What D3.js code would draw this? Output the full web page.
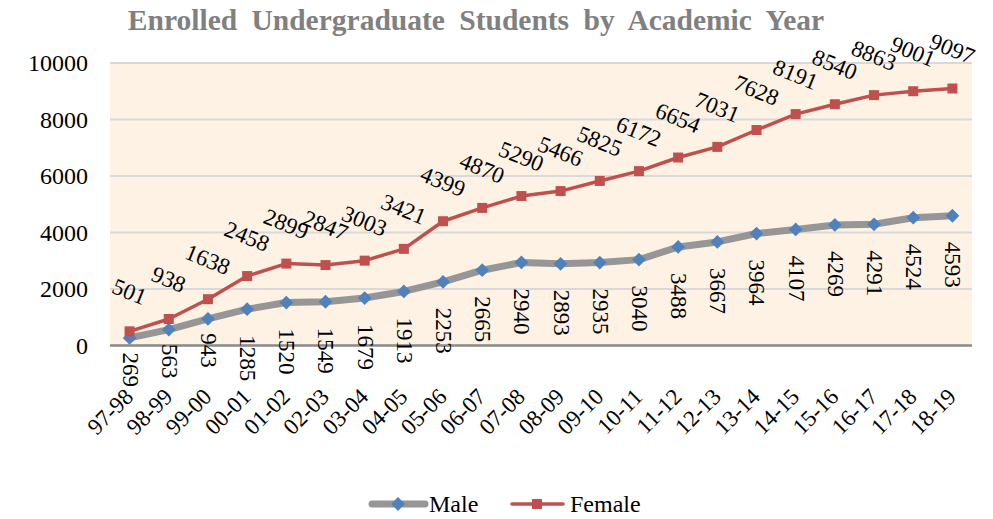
<!DOCTYPE html>
<html>
<head>
<meta charset="utf-8">
<script src="https://cdn.jsdelivr.net/npm/d3@7"></script>
<style>
  body { margin: 0; background: #fff; }
  text { font-family: "Liberation Serif", "Times New Roman", serif; }
</style>
</head>
<body>
<div id="chart"></div>
<script>
// Chart data
const years = ['97-98', '98-99', '99-00', '00-01', '01-02', '02-03', '03-04', '04-05', '05-06', '06-07', '07-08',
    '08-09', '09-10', '10-11', '11-12', '12-13', '13-14', '14-15', '15-16', '16-17', '17-18', '18-19'];
const male = [269, 563, 943, 1285, 1520, 1549, 1679, 1913, 2253, 2665, 2940, 2893, 2935, 3040, 3488, 3667, 3964,
    4107, 4269, 4291, 4524, 4593];
const female = [501, 938, 1638, 2458, 2899, 2847, 3003, 3421, 4399, 4870, 5290, 5466, 5825, 6172, 6654, 7031, 7628,
    8191, 8540, 8863, 9001, 9097];
const yTicks = [0, 2000, 4000, 6000, 8000, 10000];

function draw() {
    const dimensions = {
        width: 993,
        height: 519,
        left: 110,
        right: 972,
        top: 63,
        bottom: 345.5
    }

    const svg = d3.select('#chart')
        .append('svg')
        .attr('width', dimensions.width)
        .attr('height', dimensions.height);

    // Scales
    const xScale = d3.scalePoint()
        .domain(years)
        .range([dimensions.left, dimensions.right])
        .padding(0.5);

    const yScale = d3.scaleLinear()
        .domain([0, 10000])
        .range([dimensions.bottom, dimensions.top]);

    // Plot background
    svg.append('rect')
        .attr('x', dimensions.left)
        .attr('y', dimensions.top)
        .attr('width', dimensions.right - dimensions.left)
        .attr('height', dimensions.bottom - dimensions.top)
        .attr('fill', '#fdf2e4');

    // Grid lines
    svg.append('g')
        .selectAll('line')
        .data(yTicks.filter(d => d > 0))
        .join('line')
        .attr('x1', dimensions.left)
        .attr('x2', dimensions.right)
        .attr('y1', d => yScale(d))
        .attr('y2', d => yScale(d))
        .attr('stroke', '#d9d9d9')
        .attr('stroke-width', 2);

    // Y axis labels
    const yAxis = d3.axisLeft(yScale)
        .tickValues(yTicks)
        .tickFormat(d3.format('d'))
        .tickSize(0)
        .tickPadding(22);

    svg.append('g')
        .attr('transform', `translate(${dimensions.left}, 0)`)
        .call(yAxis)
        .attr('font-family', null)
        .call(g => g.select('.domain').remove())
        .selectAll('text')
        .attr('font-size', 24)
        .attr('fill', '#000');

    // Bottom axis line
    svg.append('line')
        .attr('x1', dimensions.left)
        .attr('x2', dimensions.right)
        .attr('y1', dimensions.bottom)
        .attr('y2', dimensions.bottom)
        .attr('stroke', '#898989')
        .attr('stroke-width', 2.5);

    // X axis labels
    svg.append('g')
        .selectAll('text')
        .data(years)
        .join('text')
        .attr('transform', d => `translate(${xScale(d) + 5}, 398) rotate(-45)`)
        .attr('text-anchor', 'end')
        .attr('font-size', 23)
        .text(d => d);

    const line = d3.line()
        .x((d, i) => xScale(years[i]))
        .y(d => yScale(d));

    // Male series
    svg.append('path')
        .datum(male)
        .attr('d', line)
        .attr('fill', 'none')
        .attr('stroke', '#969696')
        .attr('stroke-width', 7)
        .attr('stroke-linejoin', 'round');

    svg.append('g')
        .selectAll('path')
        .data(male)
        .join('path')
        .attr('d', d3.symbol(d3.symbolSquare, 95))
        .attr('transform', (d, i) => `translate(${xScale(years[i])}, ${yScale(d)}) rotate(45)`)
        .attr('fill', '#4f81bd');

    // Female series
    svg.append('path')
        .datum(female)
        .attr('d', line)
        .attr('fill', 'none')
        .attr('stroke', '#c0504d')
        .attr('stroke-width', 3.5)
        .attr('stroke-linejoin', 'round');

    svg.append('g')
        .selectAll('rect')
        .data(female)
        .join('rect')
        .attr('x', (d, i) => xScale(years[i]) - 5)
        .attr('y', d => yScale(d) - 5)
        .attr('width', 10)
        .attr('height', 10)
        .attr('fill', '#c0504d');

    // Male data labels (vertical, below points)
    svg.append('g')
        .selectAll('text')
        .data(male)
        .join('text')
        .attr('text-anchor', 'middle')
        .attr('dy', '0.35em')
        .attr('font-size', 23)
        .text(d => d)
        .each(function (d, i) {
            const len = this.getComputedTextLength();
            const cy = yScale(d) + 1.5 * len - 20;
            d3.select(this).attr('transform', `translate(${xScale(years[i]) + 1}, ${cy}) rotate(90)`);
        });

    // Female data labels (slanted, above points)
    svg.append('g')
        .selectAll('text')
        .data(female)
        .join('text')
        .attr('text-anchor', 'middle')
        .attr('dy', '0.35em')
        .attr('font-size', 23)
        .attr('transform', (d, i) => `translate(${xScale(years[i])}, ${yScale(d) - 40}) rotate(22)`)
        .text(d => d);

    // Title
    svg.append('text')
        .attr('x', 476)
        .attr('y', 30)
        .attr('text-anchor', 'middle')
        .attr('font-size', 29.5)
        .attr('font-weight', 'bold')
        .attr('fill', '#808080')
        .attr('word-spacing', 7)
        .text('Enrolled Undergraduate Students by Academic Year');

    // Legend
    const legend = svg.append('g');

    legend.append('line')
        .attr('x1', 372).attr('x2', 425)
        .attr('y1', 504).attr('y2', 504)
        .attr('stroke', '#969696')
        .attr('stroke-width', 7)
        .attr('stroke-linecap', 'round');

    legend.append('path')
        .attr('d', d3.symbol(d3.symbolSquare, 95))
        .attr('transform', 'translate(398, 504) rotate(45)')
        .attr('fill', '#4f81bd');

    legend.append('text')
        .attr('x', 429)
        .attr('y', 512)
        .attr('font-size', 24)
        .text('Male');

    legend.append('line')
        .attr('x1', 512).attr('x2', 563)
        .attr('y1', 504).attr('y2', 504)
        .attr('stroke', '#c0504d')
        .attr('stroke-width', 3.5)
        .attr('stroke-linecap', 'round');

    legend.append('rect')
        .attr('x', 532).attr('y', 499)
        .attr('width', 10).attr('height', 10)
        .attr('fill', '#c0504d');

    legend.append('text')
        .attr('x', 570)
        .attr('y', 512)
        .attr('font-size', 24)
        .text('Female');
}

draw();
</script>
</body>
</html>
